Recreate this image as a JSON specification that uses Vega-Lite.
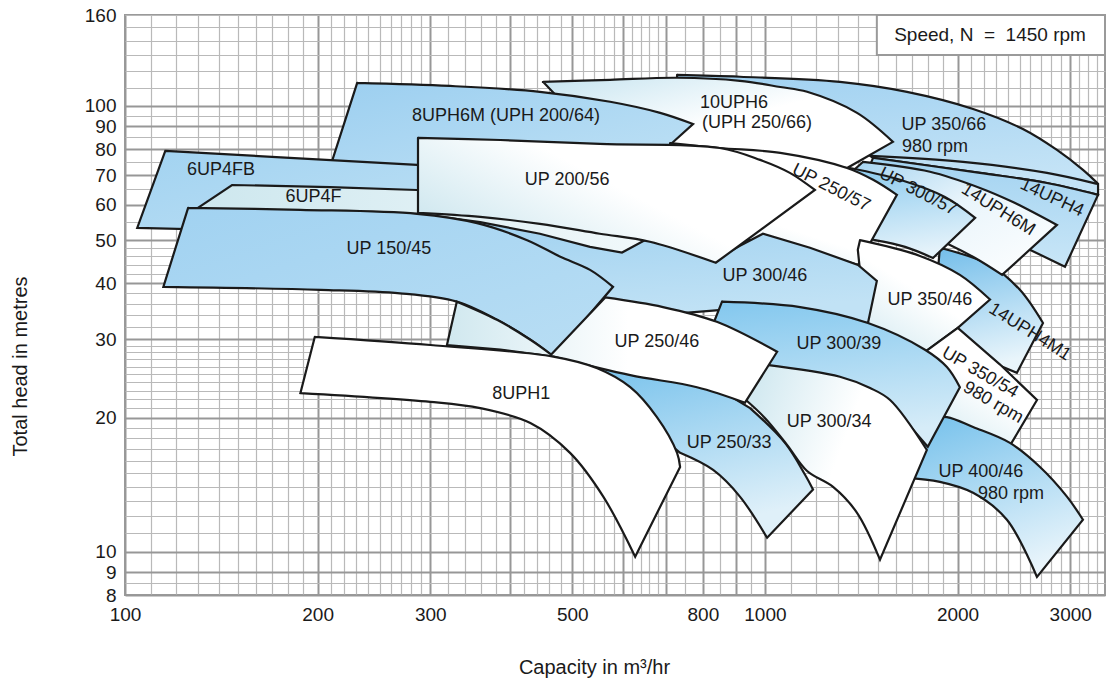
{
"$schema": "https://vega.github.io/schema/vega-lite/v6.json",
"width": 980, "height": 580,
"autosize": {"type": "none"},
"padding": {"left": 125, "top": 15, "right": 2, "bottom": 92},
"background": "white",
"config": {"view": {"stroke": "#9a9a9a", "strokeWidth": 2}, "font": "Liberation Sans"},
"datasets": {
"p01": [{"x":729,"y":117.4},{"x":729,"y":117.4},{"x":914,"y":116.3},{"x":1310,"y":113.3},{"x":1667,"y":107.6},{"x":2115,"y":98.5},{"x":2530,"y":88.8},{"x":2860,"y":79.7},{"x":3141,"y":71.9},{"x":3316,"y":66.9},{"x":3316,"y":66.9},{"x":3316,"y":63.2},{"x":3316,"y":63.2},{"x":2759,"y":67.2},{"x":2168,"y":70.8},{"x":1476,"y":76.5},{"x":1476,"y":76.5},{"x":1219,"y":93.0},{"x":1219,"y":93.0},{"x":792,"y":109.7},{"x":792,"y":109.7},{"x":729,"y":111.5},{"x":729,"y":111.5},{"x":729,"y":117.4}],
"p02": [{"x":1476,"y":76.5},{"x":1476,"y":76.5},{"x":2168,"y":70.8},{"x":2759,"y":67.2},{"x":3316,"y":63.2},{"x":3316,"y":63.2},{"x":2944,"y":43.6},{"x":2944,"y":43.6},{"x":2594,"y":47.6},{"x":2594,"y":47.6},{"x":2331,"y":51.4},{"x":2331,"y":51.4},{"x":1626,"y":64.8},{"x":1626,"y":64.8},{"x":1460,"y":73.8},{"x":1460,"y":73.8},{"x":1476,"y":76.5}],
"p03": [{"x":1877,"y":48.1},{"x":1877,"y":48.1},{"x":2248,"y":44.0},{"x":2503,"y":38.7},{"x":2720,"y":32.6},{"x":2720,"y":32.6},{"x":2476,"y":25.2},{"x":2476,"y":25.2},{"x":2207,"y":27.0},{"x":2207,"y":27.0},{"x":1981,"y":29.9},{"x":1981,"y":29.9},{"x":1844,"y":35.8},{"x":1844,"y":35.8},{"x":1877,"y":48.1}],
"p04": [{"x":1423,"y":74.9},{"x":1423,"y":74.9},{"x":1811,"y":71.2},{"x":2168,"y":65.5},{"x":2441,"y":60.9},{"x":2860,"y":54.1},{"x":2860,"y":54.1},{"x":2348,"y":41.8},{"x":2348,"y":41.8},{"x":2131,"y":45.6},{"x":1946,"y":48.8},{"x":1747,"y":52.2},{"x":1747,"y":52.2},{"x":1513,"y":58.5},{"x":1513,"y":58.5},{"x":1408,"y":66.5},{"x":1408,"y":66.5},{"x":1368,"y":71.2},{"x":1368,"y":71.2},{"x":1423,"y":74.9}],
"p05": [{"x":1359,"y":72.6},{"x":1359,"y":72.6},{"x":1626,"y":68.3},{"x":1911,"y":62.5},{"x":2131,"y":56.1},{"x":2131,"y":56.1},{"x":1831,"y":45.6},{"x":1831,"y":45.6},{"x":1656,"y":48.3},{"x":1486,"y":50.0},{"x":1486,"y":50.0},{"x":1408,"y":51.4},{"x":1408,"y":51.4},{"x":1349,"y":70.0},{"x":1349,"y":70.0},{"x":1359,"y":72.6}],
"p06": [{"x":450,"y":113.3},{"x":450,"y":113.3},{"x":573,"y":114.5},{"x":729,"y":115.7},{"x":914,"y":113.9},{"x":1057,"y":110.3},{"x":1164,"y":107.6},{"x":1393,"y":96.5},{"x":1585,"y":83.1},{"x":1585,"y":83.1},{"x":1344,"y":72.6},{"x":1344,"y":72.6},{"x":1057,"y":76.5},{"x":1057,"y":76.5},{"x":792,"y":78.9},{"x":792,"y":78.9},{"x":638,"y":83.9},{"x":638,"y":83.9},{"x":479,"y":103.2},{"x":479,"y":103.2},{"x":450,"y":113.3}],
"p07": [{"x":230.6,"y":112.7},{"x":230.6,"y":112.7},{"x":322,"y":110.9},{"x":445,"y":107.6},{"x":573,"y":102.2},{"x":686,"y":96.5},{"x":772,"y":91.1},{"x":772,"y":91.1},{"x":716,"y":82.6},{"x":716,"y":82.6},{"x":686,"y":78.9},{"x":686,"y":78.9},{"x":552,"y":78.9},{"x":552,"y":78.9},{"x":294,"y":71.2},{"x":294,"y":71.2},{"x":209,"y":72.6},{"x":209,"y":72.6},{"x":230.6,"y":112.7}],
"p08": [{"x":711,"y":82.6},{"x":711,"y":82.6},{"x":850,"y":80.5},{"x":1057,"y":78.5},{"x":1344,"y":72.6},{"x":1476,"y":68.3},{"x":1608,"y":63.2},{"x":1608,"y":63.2},{"x":1398,"y":44.0},{"x":1398,"y":44.0},{"x":1176,"y":47.6},{"x":1176,"y":47.6},{"x":993,"y":50.0},{"x":993,"y":50.0},{"x":850,"y":50.0},{"x":850,"y":50.0},{"x":737,"y":61.6},{"x":737,"y":61.6},{"x":711,"y":75.7},{"x":711,"y":75.7},{"x":711,"y":82.6}],
"p09": [{"x":1408,"y":50.0},{"x":1408,"y":50.0},{"x":1747,"y":46.1},{"x":2017,"y":41.8},{"x":2248,"y":36.8},{"x":2248,"y":36.8},{"x":2002,"y":31.8},{"x":2002,"y":31.8},{"x":1779,"y":28.1},{"x":1779,"y":28.1},{"x":1626,"y":27.0},{"x":1626,"y":27.0},{"x":1449,"y":29.9},{"x":1449,"y":29.9},{"x":1418,"y":38.7},{"x":1418,"y":38.7},{"x":1397,"y":47.6},{"x":1397,"y":47.6},{"x":1408,"y":50.0}],
"p10": [{"x":289,"y":57.6},{"x":415,"y":54.4},{"x":552,"y":51.1},{"x":661,"y":50.6},{"x":838,"y":45.2},{"x":914,"y":48.6},{"x":993,"y":51.7},{"x":1176,"y":48.1},{"x":1398,"y":44.0},{"x":1496,"y":40.5},{"x":1449,"y":32.6},{"x":1135,"y":34.0},{"x":857,"y":34.9},{"x":686,"y":34.0},{"x":573,"y":34.9},{"x":533,"y":38.7},{"x":479,"y":42.9},{"x":386,"y":48.8},{"x":289,"y":54.1}],
"p11": [{"x":115.6,"y":79.3},{"x":181,"y":76.5},{"x":286,"y":73.8},{"x":311,"y":73.0},{"x":311,"y":52.2},{"x":188,"y":52.2},{"x":104.5,"y":53.3}],
"p12": [{"x":130,"y":59.1},{"x":147,"y":66.5},{"x":209,"y":65.8},{"x":286,"y":64.8},{"x":462,"y":60.0},{"x":686,"y":52.2},{"x":598,"y":46.9},{"x":533,"y":48.3},{"x":445,"y":51.7},{"x":359,"y":54.9},{"x":287,"y":57.3},{"x":188,"y":57.6},{"x":131,"y":57.6}],
"p13": [{"x":125.5,"y":59.1},{"x":125.5,"y":59.1},{"x":188,"y":58.5},{"x":286,"y":57.3},{"x":355,"y":54.6},{"x":425,"y":50.0},{"x":479,"y":45.9},{"x":533,"y":42.9},{"x":579,"y":39.3},{"x":579,"y":39.3},{"x":467,"y":27.4},{"x":467,"y":27.4},{"x":430,"y":29.9},{"x":382,"y":33.1},{"x":330,"y":36.4},{"x":269,"y":38.0},{"x":202,"y":38.7},{"x":114.8,"y":39.3},{"x":114.8,"y":39.3},{"x":125.5,"y":59.1}],
"p14": [{"x":287,"y":84.8},{"x":287,"y":84.8},{"x":386,"y":83.9},{"x":552,"y":82.2},{"x":850,"y":80.5},{"x":983,"y":75.7},{"x":1094,"y":70.8},{"x":1197,"y":64.8},{"x":1197,"y":64.8},{"x":838,"y":44.5},{"x":838,"y":44.5},{"x":661,"y":49.6},{"x":552,"y":51.7},{"x":445,"y":54.4},{"x":359,"y":56.4},{"x":287,"y":57.6},{"x":287,"y":57.6},{"x":287,"y":84.8}],
"p15": [{"x":1779,"y":28.1},{"x":2002,"y":31.8},{"x":2331,"y":26.3},{"x":2662,"y":21.9},{"x":2415,"y":17.3},{"x":2131,"y":18.6},{"x":1946,"y":19.25},{"x":1811,"y":21.9}],
"p16": [{"x":1779,"y":19.96},{"x":1779,"y":19.96},{"x":1925,"y":20.05},{"x":2115,"y":19.05},{"x":2415,"y":17.55},{"x":2691,"y":15.5},{"x":2965,"y":13.3},{"x":3141,"y":11.8},{"x":3141,"y":11.8},{"x":2662,"y":8.78},{"x":2662,"y":8.78},{"x":2389,"y":11.8},{"x":2115,"y":13.56},{"x":1877,"y":14.35},{"x":1656,"y":14.65},{"x":1656,"y":14.65},{"x":1779,"y":19.96}],
"p17": [{"x":857,"y":36.4},{"x":857,"y":36.4},{"x":1135,"y":35.4},{"x":1449,"y":32.6},{"x":1779,"y":28.4},{"x":1925,"y":25.97},{"x":2017,"y":23.4},{"x":2017,"y":23.4},{"x":1797,"y":17.2},{"x":1797,"y":17.2},{"x":1626,"y":20.3},{"x":1626,"y":20.3},{"x":1408,"y":23.1},{"x":1408,"y":23.1},{"x":1135,"y":24.9},{"x":1135,"y":24.9},{"x":983,"y":25.6},{"x":983,"y":25.6},{"x":806,"y":29.1},{"x":806,"y":29.1},{"x":857,"y":36.4}],
"p18": [{"x":548,"y":26.1},{"x":548,"y":26.1},{"x":686,"y":24.7},{"x":686,"y":24.7},{"x":850,"y":23.1},{"x":850,"y":23.1},{"x":948,"y":21.0},{"x":948,"y":21.0},{"x":1075,"y":17.55},{"x":1156,"y":14.87},{"x":1189,"y":13.8},{"x":1189,"y":13.8},{"x":1008,"y":10.75},{"x":1008,"y":10.75},{"x":914,"y":13.3},{"x":830,"y":15.26},{"x":737,"y":16.67},{"x":737,"y":16.67},{"x":638,"y":19.8},{"x":638,"y":19.8},{"x":552,"y":24.3},{"x":552,"y":24.3},{"x":548,"y":26.1}],
"p19": [{"x":1000,"y":26.3},{"x":1000,"y":26.3},{"x":1310,"y":24.7},{"x":1460,"y":23.3},{"x":1569,"y":21.9},{"x":1791,"y":16.92},{"x":1791,"y":16.92},{"x":1513,"y":9.6},{"x":1513,"y":9.6},{"x":1393,"y":12.23},{"x":1278,"y":13.98},{"x":1164,"y":15.18},{"x":1083,"y":17.37},{"x":1000,"y":19.96},{"x":934,"y":21.9},{"x":934,"y":21.9},{"x":1000,"y":26.3}],
"p20": [{"x":563,"y":37.2},{"x":563,"y":37.2},{"x":693,"y":35.4},{"x":841,"y":32.8},{"x":1045,"y":28.1},{"x":1045,"y":28.1},{"x":931,"y":21.6},{"x":931,"y":21.6},{"x":783,"y":23.4},{"x":616,"y":24.9},{"x":467,"y":27.4},{"x":467,"y":27.4},{"x":386,"y":28.4},{"x":386,"y":28.4},{"x":318.5,"y":29.1},{"x":318.5,"y":29.1},{"x":330,"y":36.4},{"x":330,"y":36.4},{"x":382,"y":33.1},{"x":430,"y":29.9},{"x":463.5,"y":27.7},{"x":463.5,"y":27.7},{"x":563,"y":37.2}],
"p21": [{"x":198,"y":30.35},{"x":198,"y":30.35},{"x":300,"y":29.1},{"x":467,"y":27.4},{"x":547,"y":25.8},{"x":616,"y":23.4},{"x":678,"y":20.05},{"x":729,"y":16.67},{"x":737,"y":15.5},{"x":737,"y":15.5},{"x":627,"y":9.75},{"x":627,"y":9.75},{"x":559,"y":13.3},{"x":496,"y":16.67},{"x":430,"y":19.45},{"x":359,"y":21.0},{"x":300,"y":21.7},{"x":188,"y":22.7},{"x":188,"y":22.7},{"x":198,"y":30.35}],
"c1": [{"x":1460,"y":77.3},{"x":2040,"y":74.9},{"x":2759,"y":70.8},{"x":3304,"y":66.9}],
"box": [{"x":1496,"x2":3400,"y":130.1,"y2":160}],
"boxlab": [{"t":"Speed, N\u00a0\u00a0=\u00a0\u00a01450 rpm","x":2248,"y":144}],
"lab0": [{"t":"6UP4FB","x":141.3,"y":71.9},{"t":"8UPH6M (UPH 200/64)","x":394,"y":94.95},{"t":"6UP4F","x":197,"y":62.5},{"t":"10UPH6","x":895,"y":101.6},{"t":"(UPH 250/66)","x":972,"y":91.6},{"t":"UP 200/56","x":491,"y":68.3},{"t":"UP 350/66","x":1904,"y":90.6},{"t":"980 rpm","x":1844,"y":81.0},{"t":"UP 150/45","x":258.5,"y":47.8},{"t":"UP 300/46","x":1000,"y":41.6},{"t":"UP 350/46","x":1811,"y":36.8},{"t":"UP 250/46","x":678,"y":29.6},{"t":"UP 300/39","x":1305,"y":29.3},{"t":"8UPH1","x":416,"y":22.6},{"t":"UP 300/34","x":1260,"y":19.55},{"t":"UP 250/33","x":879,"y":17.55},{"t":"UP 400/46","x":2176,"y":15.1},{"t":"980 rpm","x":2424,"y":13.5}],
"lab27": [{"t":"UP 250/57","x":1269,"y":65.5},{"t":"UP 300/57","x":1735,"y":64.2}],
"lab32": [{"t":"14UPH6M","x":2315,"y":58.5},{"t":"14UPH4M1","x":2594,"y":31.1}],
"lab25": [{"t":"14UPH4","x":2808,"y":62.2}],
"lab30": [{"t":"UP 350/54","x":2168,"y":25.2},{"t":"980 rpm","x":2273,"y":21.6}]
},
"encoding": {
"x": {"field": "x", "type": "quantitative",
 "scale": {"type": "log", "domain": [100, 3400], "nice": false},
 "axis": {
  "values": [100,110,120,130,140,150,160,170,180,190,200,210,220,230,240,250,260,270,280,290,300,320,340,360,380,400,420,440,460,480,500,520,540,560,580,600,620,640,660,680,700,750,800,850,900,950,1000,1100,1200,1300,1400,1500,1600,1700,1800,1900,2000,2100,2200,2300,2400,2500,2600,2700,2800,2900,3000,3100,3200,3300],
  "format": "d",
  "labelExpr": "indexof([100,200,300,500,800,1000,2000,3000], datum.value) >= 0 ? datum.label : ''",
  "grid": true, "ticks": false, "tickSize": 0, "domain": false,
  "gridColor": {"condition": {"test": "indexof([100,200,300,400,500,600,700,800,900,1000,2000,3000], datum.value) >= 0", "value": "#979797"}, "value": "#b9b9b9"},
  "gridWidth": {"condition": {"test": "indexof([100,200,300,400,500,600,700,800,900,1000,2000,3000], datum.value) >= 0", "value": 2}, "value": 1.2},
  "labelFont": "Liberation Sans", "labelFontSize": 19, "labelColor": "#1a1a1a", "labelPadding": 10, "labelFlush": false, "labelOverlap": false,
  "title": "Capacity in m³/hr", "titleFont": "Liberation Sans", "titleFontSize": 20, "titleFontWeight": "normal", "titleColor": "#1a1a1a",
  "titleX": 469, "titleY": 72, "titleBaseline": "middle", "titleAlign": "center"
 }},
"y": {"field": "y", "type": "quantitative",
 "scale": {"type": "log", "domain": [8, 160], "nice": false},
 "axis": {
  "values": [8,8.5,9,10,11,12,13,14,15,16,17,18,19,20,21,22,23,24,25,26,27,28,29,30,32,34,36,38,40,42,44,46,48,50,55,60,65,70,75,80,85,90,95,100,110,120,130,140,150,160],
  "format": "d",
  "labelExpr": "indexof([8,9,10,20,30,40,50,60,70,80,90,100,160], datum.value) >= 0 ? datum.label : ''",
  "grid": true, "ticks": false, "tickSize": 0, "domain": false,
  "gridColor": {"condition": {"test": "indexof([8,9,10,20,30,40,50,60,70,80,90,100], datum.value) >= 0", "value": "#979797"}, "value": "#b9b9b9"},
  "gridWidth": {"condition": {"test": "indexof([8,9,10,20,30,40,50,60,70,80,90,100], datum.value) >= 0", "value": 2}, "value": 1.2},
  "labelFont": "Liberation Sans", "labelFontSize": 19, "labelColor": "#1a1a1a", "labelPadding": 9, "labelOverlap": false,
  "title": "Total head in metres", "titleFont": "Liberation Sans", "titleFontSize": 20, "titleFontWeight": "normal", "titleColor": "#1a1a1a",
  "titleX": -105, "titleY": 351, "titleBaseline": "middle", "titleAlign": "center", "titleAngle": -90
 }}
},
"layer": [
{"data": {"name": "p01"}, "mark": {"type": "line", "interpolate": "catmull-rom", "strokeCap": "round", "stroke": "#1a1a1a", "strokeWidth": 2.2, "fill": {"gradient": "linear", "x1": 0, "y1": 0, "x2": 0.3, "y2": 1, "stops": [{"offset": 0, "color": "#a0d1f1"}, {"offset": 1, "color": "#c4e3f6"}]}}, "encoding": {"order": {"value": null}}},
{"data": {"name": "p02"}, "mark": {"type": "line", "interpolate": "catmull-rom", "strokeCap": "round", "stroke": "#1a1a1a", "strokeWidth": 2.2, "fill": {"gradient": "linear", "x1": 0, "y1": 0, "x2": 0, "y2": 1, "stops": [{"offset": 0, "color": "#a3d3f1"}, {"offset": 1, "color": "#c9e6f7"}]}}, "encoding": {"order": {"value": null}}},
{"data": {"name": "p03"}, "mark": {"type": "line", "interpolate": "catmull-rom", "strokeCap": "round", "stroke": "#1a1a1a", "strokeWidth": 2.2, "fill": {"gradient": "linear", "x1": 0, "y1": 0, "x2": 0.2, "y2": 1, "stops": [{"offset": 0, "color": "#72bdea"}, {"offset": 1, "color": "#e9f5fb"}]}}, "encoding": {"order": {"value": null}}},
{"data": {"name": "p04"}, "mark": {"type": "line", "interpolate": "catmull-rom", "strokeCap": "round", "stroke": "#1a1a1a", "strokeWidth": 2.2, "fill": {"gradient": "linear", "x1": 0, "y1": 0, "x2": 1, "y2": 1, "stops": [{"offset": 0, "color": "#a5d4f1"}, {"offset": 0.45, "color": "#eaf5fb"}, {"offset": 1, "color": "#ffffff"}]}}, "encoding": {"order": {"value": null}}},
{"data": {"name": "p05"}, "mark": {"type": "line", "interpolate": "catmull-rom", "strokeCap": "round", "stroke": "#1a1a1a", "strokeWidth": 2.2, "fill": {"gradient": "linear", "x1": 0, "y1": 0, "x2": 0.2, "y2": 1, "stops": [{"offset": 0, "color": "#8ccbef"}, {"offset": 1, "color": "#e4f2fa"}]}}, "encoding": {"order": {"value": null}}},
{"data": {"name": "p06"}, "mark": {"type": "line", "interpolate": "catmull-rom", "strokeCap": "round", "stroke": "#1a1a1a", "strokeWidth": 2.2, "fill": {"gradient": "linear", "x1": 0, "y1": 0, "x2": 1, "y2": 1, "stops": [{"offset": 0, "color": "#c6e4f0"}, {"offset": 0.5, "color": "#ffffff"}, {"offset": 1, "color": "#ffffff"}]}}, "encoding": {"order": {"value": null}}},
{"data": {"name": "p07"}, "mark": {"type": "line", "interpolate": "catmull-rom", "strokeCap": "round", "stroke": "#1a1a1a", "strokeWidth": 2.2, "fill": {"gradient": "linear", "x1": 0, "y1": 0, "x2": 1, "y2": 1, "stops": [{"offset": 0, "color": "#9ccff0"}, {"offset": 1, "color": "#bfe1f5"}]}}, "encoding": {"order": {"value": null}}},
{"data": {"name": "p08"}, "mark": {"type": "line", "interpolate": "catmull-rom", "strokeCap": "round", "stroke": "#1a1a1a", "strokeWidth": 2.2, "fill": {"gradient": "linear", "x1": 0, "y1": 1, "x2": 0.6, "y2": 0, "stops": [{"offset": 0, "color": "#cbe6ee"}, {"offset": 0.45, "color": "#ffffff"}, {"offset": 1, "color": "#ffffff"}]}}, "encoding": {"order": {"value": null}}},
{"data": {"name": "p09"}, "mark": {"type": "line", "interpolate": "catmull-rom", "strokeCap": "round", "stroke": "#1a1a1a", "strokeWidth": 2.2, "fill": {"gradient": "linear", "x1": 0, "y1": 1, "x2": 0.7, "y2": 0, "stops": [{"offset": 0, "color": "#cde7ef"}, {"offset": 0.6, "color": "#ffffff"}, {"offset": 1, "color": "#ffffff"}]}}, "encoding": {"order": {"value": null}}},
{"data": {"name": "p10"}, "mark": {"type": "line", "interpolate": "linear-closed", "stroke": "#1a1a1a", "strokeWidth": 2.2, "fill": {"gradient": "linear", "x1": 0, "y1": 0, "x2": 0.3, "y2": 1, "stops": [{"offset": 0, "color": "#9dd0f0"}, {"offset": 1, "color": "#c1e2f5"}]}}, "encoding": {"order": {"value": null}}},
{"data": {"name": "p11"}, "mark": {"type": "line", "interpolate": "linear-closed", "stroke": "#1a1a1a", "strokeWidth": 2.2, "fill": {"gradient": "linear", "x1": 0, "y1": 0, "x2": 1, "y2": 1, "stops": [{"offset": 0, "color": "#a2d3f1"}, {"offset": 1, "color": "#bcdff4"}]}}, "encoding": {"order": {"value": null}}},
{"data": {"name": "p12"}, "mark": {"type": "line", "interpolate": "linear-closed", "stroke": "#1a1a1a", "strokeWidth": 2.2, "fill": {"gradient": "linear", "x1": 0, "y1": 0, "x2": 1, "y2": 0, "stops": [{"offset": 0, "color": "#cde7ee"}, {"offset": 1, "color": "#f2f9fb"}]}}, "encoding": {"order": {"value": null}}},
{"data": {"name": "p13"}, "mark": {"type": "line", "interpolate": "catmull-rom", "strokeCap": "round", "stroke": "#1a1a1a", "strokeWidth": 2.2, "fill": {"gradient": "linear", "x1": 0, "y1": 0, "x2": 1, "y2": 1, "stops": [{"offset": 0, "color": "#a1d2f1"}, {"offset": 1, "color": "#b9def4"}]}}, "encoding": {"order": {"value": null}}},
{"data": {"name": "p14"}, "mark": {"type": "line", "interpolate": "catmull-rom", "strokeCap": "round", "stroke": "#1a1a1a", "strokeWidth": 2.2, "fill": {"gradient": "linear", "x1": 0, "y1": 0.8, "x2": 1, "y2": 0.2, "stops": [{"offset": 0, "color": "#c8e4ed"}, {"offset": 0.55, "color": "#ffffff"}, {"offset": 1, "color": "#ffffff"}]}}, "encoding": {"order": {"value": null}}},
{"data": {"name": "p15"}, "mark": {"type": "line", "interpolate": "linear-closed", "stroke": "#1a1a1a", "strokeWidth": 2.2, "fill": {"gradient": "linear", "x1": 0, "y1": 1, "x2": 0.6, "y2": 0, "stops": [{"offset": 0, "color": "#cfe8f0"}, {"offset": 0.6, "color": "#ffffff"}, {"offset": 1, "color": "#ffffff"}]}}, "encoding": {"order": {"value": null}}},
{"data": {"name": "p16"}, "mark": {"type": "line", "interpolate": "catmull-rom", "strokeCap": "round", "stroke": "#1a1a1a", "strokeWidth": 2.2, "fill": {"gradient": "linear", "x1": 0.2, "y1": 0, "x2": 0.6, "y2": 1, "stops": [{"offset": 0, "color": "#7ac3ec"}, {"offset": 1, "color": "#eaf5fb"}]}}, "encoding": {"order": {"value": null}}},
{"data": {"name": "p17"}, "mark": {"type": "line", "interpolate": "catmull-rom", "strokeCap": "round", "stroke": "#1a1a1a", "strokeWidth": 2.2, "fill": {"gradient": "linear", "x1": 0, "y1": 0, "x2": 0.2, "y2": 1, "stops": [{"offset": 0, "color": "#82c7ee"}, {"offset": 1, "color": "#d6ecf8"}]}}, "encoding": {"order": {"value": null}}},
{"data": {"name": "p18"}, "mark": {"type": "line", "interpolate": "catmull-rom", "strokeCap": "round", "stroke": "#1a1a1a", "strokeWidth": 2.2, "fill": {"gradient": "linear", "x1": 0, "y1": 0, "x2": 0.3, "y2": 1, "stops": [{"offset": 0, "color": "#78c2ec"}, {"offset": 1, "color": "#dff0f9"}]}}, "encoding": {"order": {"value": null}}},
{"data": {"name": "p19"}, "mark": {"type": "line", "interpolate": "catmull-rom", "strokeCap": "round", "stroke": "#1a1a1a", "strokeWidth": 2.2, "fill": {"gradient": "linear", "x1": 0, "y1": 0.3, "x2": 1, "y2": 0.7, "stops": [{"offset": 0, "color": "#d4eaf1"}, {"offset": 0.5, "color": "#ffffff"}, {"offset": 1, "color": "#ffffff"}]}}, "encoding": {"order": {"value": null}}},
{"data": {"name": "p20"}, "mark": {"type": "line", "interpolate": "catmull-rom", "strokeCap": "round", "stroke": "#1a1a1a", "strokeWidth": 2.2, "fill": {"gradient": "linear", "x1": 0, "y1": 0.5, "x2": 1, "y2": 0.5, "stops": [{"offset": 0, "color": "#d0e8ef"}, {"offset": 0.55, "color": "#ffffff"}, {"offset": 1, "color": "#ffffff"}]}}, "encoding": {"order": {"value": null}}},
{"data": {"name": "p21"}, "mark": {"type": "line", "interpolate": "catmull-rom", "strokeCap": "round", "stroke": "#1a1a1a", "strokeWidth": 2.2, "fill": {"gradient": "linear", "x1": 0, "y1": 1, "x2": 0.6, "y2": 0, "stops": [{"offset": 0, "color": "#e6f3f7"}, {"offset": 0.4, "color": "#ffffff"}, {"offset": 1, "color": "#ffffff"}]}}, "encoding": {"order": {"value": null}}},
{"data": {"name": "c1"}, "mark": {"type": "line", "interpolate": "catmull-rom", "stroke": "#1a1a1a", "strokeWidth": 2.2}, "encoding": {"order": {"value": null}}},
{"data": {"name": "box"}, "mark": {"type": "rect", "fill": "white", "stroke": "#9a9a9a", "strokeWidth": 2}, "encoding": {"x2": {"field": "x2"}, "y2": {"field": "y2"}}},
{"data": {"name": "boxlab"}, "mark": {"type": "text", "font": "Liberation Sans", "fontSize": 19, "color": "#1a1a1a", "align": "center", "baseline": "middle"}, "encoding": {"text": {"field": "t"}}},
{"data": {"name": "lab0"}, "mark": {"type": "text", "font": "Liberation Sans", "fontSize": 18, "color": "#1a1a1a", "align": "center", "baseline": "middle"}, "encoding": {"text": {"field": "t"}}},
{"data": {"name": "lab27"}, "mark": {"type": "text", "font": "Liberation Sans", "fontSize": 18, "color": "#1a1a1a", "align": "center", "baseline": "middle", "angle": 27}, "encoding": {"text": {"field": "t"}}},
{"data": {"name": "lab32"}, "mark": {"type": "text", "font": "Liberation Sans", "fontSize": 18, "color": "#1a1a1a", "align": "center", "baseline": "middle", "angle": 32}, "encoding": {"text": {"field": "t"}}},
{"data": {"name": "lab25"}, "mark": {"type": "text", "font": "Liberation Sans", "fontSize": 18, "color": "#1a1a1a", "align": "center", "baseline": "middle", "angle": 25}, "encoding": {"text": {"field": "t"}}},
{"data": {"name": "lab30"}, "mark": {"type": "text", "font": "Liberation Sans", "fontSize": 18, "color": "#1a1a1a", "align": "center", "baseline": "middle", "angle": 30}, "encoding": {"text": {"field": "t"}}}
]
}
